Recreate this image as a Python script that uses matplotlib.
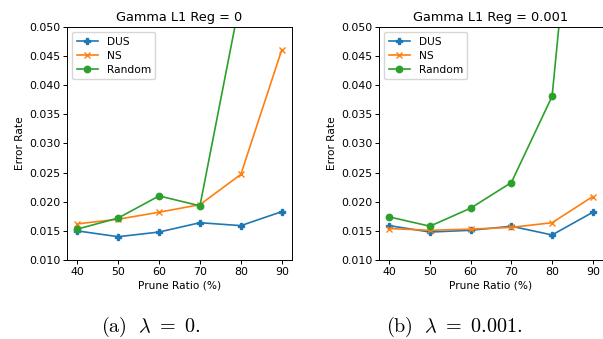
import matplotlib
matplotlib.use("Agg")
import matplotlib.pyplot as plt

prune_ratio = [40, 50, 60, 70, 80, 90]

# Gamma L1 Reg = 0
dus_0 = [0.0150, 0.0140, 0.0148, 0.0164, 0.0159, 0.0183]
ns_0 = [0.0162, 0.0170, 0.0182, 0.0195, 0.0247, 0.0461]
random_0 = [0.0153, 0.0172, 0.0210, 0.0193, 0.0553, 0.0900]

# Gamma L1 Reg = 0.001
dus_1 = [0.0159, 0.0148, 0.0151, 0.0158, 0.0143, 0.0182]
ns_1 = [0.0154, 0.0151, 0.0153, 0.0156, 0.0164, 0.0209]
random_1 = [0.0174, 0.0158, 0.0189, 0.0233, 0.0381, 0.1100]

titles = ["Gamma L1 Reg = 0", "Gamma L1 Reg = 0.001"]
captions = [r"$\mathrm{(a)}\ \ \lambda\ =\ 0.$", r"$\mathrm{(b)}\ \ \lambda\ =\ 0.001.$"]
yticks = [0.010, 0.015, 0.020, 0.025, 0.030, 0.035, 0.040, 0.045, 0.050]

plt.rcParams["mathtext.fontset"] = "cm"

fig = plt.figure(figsize=(6.03, 3.39), dpi=100)
W, H = 603, 339
ax_l = fig.add_axes([67 / W, 79 / H, 225 / W, 233 / H])
ax_r = fig.add_axes([379 / W, 79 / H, 224 / W, 233 / H])

lw = 1.2
ms = 4.6
fs = 7.9
for ax, d, n, r, t in [(ax_l, dus_0, ns_0, random_0, titles[0]),
                       (ax_r, dus_1, ns_1, random_1, titles[1])]:
    ax.plot(prune_ratio, d, marker="P", color="#1f77b4", lw=lw, ms=ms, label="DUS")
    ax.plot(prune_ratio, n, marker="x", color="#ff7f0e", lw=lw, ms=ms, label="NS")
    ax.plot(prune_ratio, r, marker="o", color="#2ca02c", lw=lw, ms=ms, label="Random")
    ax.set_ylim(0.010, 0.050)
    ax.set_xlim(37.5, 92.5)
    ax.set_yticks(yticks)
    ax.set_yticklabels([f"{v:.3f}" for v in yticks])
    ax.set_xticks(prune_ratio)
    ax.tick_params(labelsize=fs, length=2.8, width=0.7, pad=2)
    ax.set_xlabel("Prune Ratio (%)", fontsize=7.6, labelpad=2.5)
    ax.set_ylabel("Error Rate", fontsize=7.6, labelpad=3)
    ax.set_title(t, fontsize=9.3, pad=4)
    for s in ax.spines.values():
        s.set_linewidth(0.7)
    ax.legend(loc="upper left", fontsize=7.7, handlelength=2.0, borderpad=0.4,
              labelspacing=0.4, framealpha=0.8, edgecolor="#cccccc")

fig.text(151 / W, 1 - 327 / H, captions[0], ha="center", va="center", fontsize=14.5)
fig.text(454 / W, 1 - 327 / H, captions[1], ha="center", va="center", fontsize=14.5)

fig.savefig("out.png", dpi=100)
